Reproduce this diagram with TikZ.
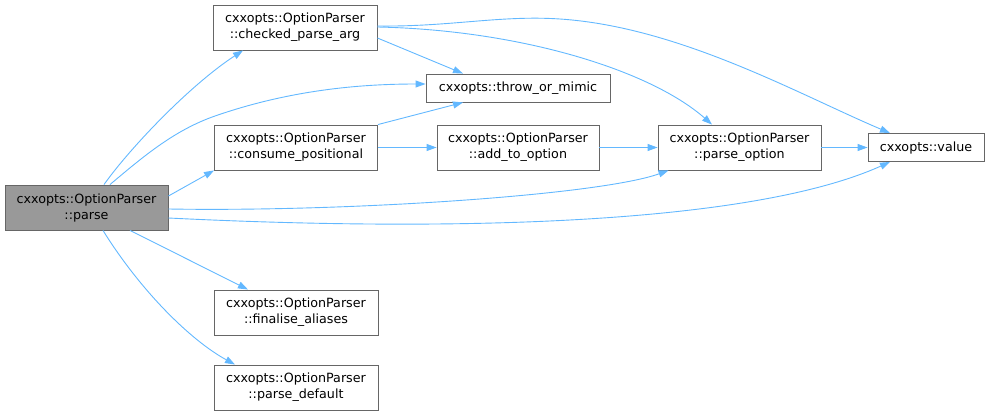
\documentclass[tikz,border=0pt]{standalone}
\usepackage{fontspec}
\setmainfont{DejaVu Sans}
\usetikzlibrary{arrows.meta}
\definecolor{edgeblue}{HTML}{63B8FF}
\definecolor{boxborder}{HTML}{666666}
\definecolor{rootfill}{HTML}{999999}
\begin{document}
\begin{tikzpicture}[x=1pt,y=-1pt,
  fn/.style={draw=boxborder,line width=0.9pt,fill=white,align=center,inner sep=0pt,
    minimum height=45pt,font=\fontsize{12.7}{16}\selectfont},
  leaf/.style={fn,minimum height=28pt},
  root/.style={fn,fill=rootfill},
  call/.style={draw=edgeblue,line width=0.9pt,-{Triangle[length=10pt,width=7pt]}}]
\useasboundingbox (0,0) rectangle (989,415);
\node[root,minimum width=163pt] (parse) at (86.5,207.5) {cxxopts::OptionParser\\::parse};
\node[fn,minimum width=164pt] (checked) at (295,27.5) {cxxopts::OptionParser\\::checked\_parse\_arg};
\node[fn,minimum width=163pt] (consume) at (296,147.5) {cxxopts::OptionParser\\::consume\_positional};
\node[fn,minimum width=162pt] (add) at (518,147.5) {cxxopts::OptionParser\\::add\_to\_option};
\node[leaf,minimum width=184pt] (throw) at (518,88) {cxxopts::throw\_or\_mimic};
\node[fn,minimum width=163pt] (popt) at (739.5,147.5) {cxxopts::OptionParser\\::parse\_option};
\node[leaf,minimum width=116pt] (value) at (926,147.5) {cxxopts::value};
\node[fn,minimum width=164pt] (final) at (296,312.5) {cxxopts::OptionParser\\::finalise\_aliases};
\node[fn,minimum width=164pt] (default) at (296,387.5) {cxxopts::OptionParser\\::parse\_default};

% parse calls
\draw[call] ([xshift=17.5pt]parse.north) .. controls (130,148) and (190,85) .. ([xshift=-52pt]checked.south);
\draw[call] ([xshift=23.5pt]parse.north) .. controls (145,155) and (175,130) .. (215,116)
   .. controls (290,90) and (360,84) .. ([yshift=4pt]throw.west);
\draw[call] ([yshift=11.5pt]parse.east) -- (consume.south west);
\draw[call] ([yshift=-1.5pt]parse.east) .. controls (350,212) and (600,195) .. ([xshift=-71pt]popt.south);
\draw[call] ([yshift=-10.5pt]parse.east) .. controls (450,232) and (750,225) .. ([xshift=-36pt]value.south);
\draw[call] ([xshift=43.5pt]parse.south) -- ([xshift=-48pt]final.north);
\draw[call] ([xshift=16.5pt]parse.south) .. controls (140,290) and (190,340) .. ([xshift=-61pt]default.north);

% checked_parse_arg calls
\draw[call] ([yshift=-10.5pt]checked.east) -- ([xshift=-55pt]throw.north);
\draw[call] ([yshift=0.5pt]checked.east) .. controls (520,30) and (650,70) .. ([xshift=-27.5pt]popt.north);
\draw[call] ([yshift=1.5pt]checked.east) .. controls (450,27) and (500,15) .. (560,19)
   .. controls (680,27) and (800,95) .. ([xshift=-36pt]value.north);

% consume_positional calls
\draw[call] (consume.north east) -- ([xshift=-55pt]throw.south);
\draw[call] (consume.east) -- (add.west);
\draw[call] (add.east) -- (popt.west);
\draw[call] (popt.east) -- (value.west);
\end{tikzpicture}
\end{document}
